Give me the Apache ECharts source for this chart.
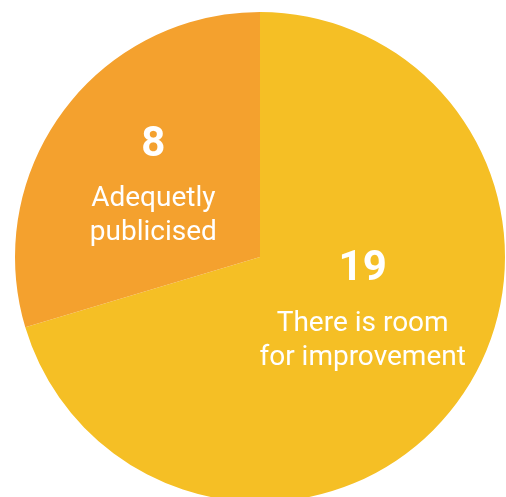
<!DOCTYPE html>
<html>
<head>
<meta charset="utf-8">
<script src="https://cdn.jsdelivr.net/npm/echarts@6/dist/echarts.min.js"></script>
<style>
  html, body { margin: 0; padding: 0; background: #ffffff; }
  #chart { width: 506px; height: 497px; }
</style>
</head>
<body>
<div id="chart"></div>
<script>
// Survey answers and their counts
const categories = ['There is room\nfor improvement', 'Adequetly\npublicised'];
const counts = [19, 8];
const colors = ['#F5BF25', '#F4A12E'];

const chart = echarts.init(document.getElementById('chart'), null, { renderer: 'canvas' });

chart.setOption({
  animation: false,
  series: [{
    type: 'pie',
    center: [260, 257],
    radius: 245,
    startAngle: 90,
    clockwise: true,
    silent: true,
    data: categories.map((name, i) => ({
      name: name,
      value: counts[i],
      itemStyle: { color: colors[i] }
    })),
    label: {
      show: true,
      position: 'inside',
      formatter: p => '{v|' + p.value + '}\n{n|' + p.name + '}',
      rich: {
        v: {
          fontFamily: 'Roboto',
          fontWeight: 'bold',
          fontSize: 42,
          color: '#ffffff',
          lineHeight: 74,
          align: 'center'
        },
        n: {
          fontFamily: 'Roboto',
          fontSize: 28,
          color: '#ffffff',
          lineHeight: 34,
          align: 'center'
        }
      }
    },
    // nudge the inside labels a little towards the upper part of each slice
    labelLayout: p => (p.dataIndex === 0 ? { dx: 2, dy: -28 } : { dx: -6, dy: -3 }),
    labelLine: { show: false }
  }]
});
</script>
</body>
</html>
